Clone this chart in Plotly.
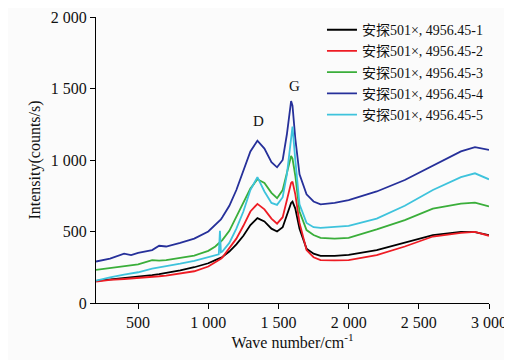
import plotly.graph_objects as go

wavenumber = [200, 300, 400, 450, 500, 600, 650, 700, 800, 900, 1000, 1050, 1075, 1083, 1090, 1100,
              1150, 1200, 1250, 1300, 1350, 1400, 1450, 1490, 1530, 1560, 1590, 1600, 1620, 1650,
              1700, 1750, 1800, 1900, 2000, 2200, 2400, 2600, 2800, 2900, 3000]

s1 = [155, 165, 172, 176, 182, 195, 202, 210, 228, 250, 278, 300, 312, 315, 318, 322, 360, 410, 470, 545,
      593, 570, 520, 500, 530, 610, 700, 709, 660, 520, 380, 345, 330, 330, 337, 370, 425, 475, 497, 495, 475]
s2 = [150, 162, 168, 171, 175, 182, 187, 192, 205, 222, 255, 283, 300, 305, 310, 318, 380, 450, 540, 640,
      693, 655, 590, 555, 600, 720, 840, 849, 760, 560, 370, 320, 300, 298, 300, 335, 395, 465, 490, 497, 470]
s3 = [232, 245, 258, 262, 270, 300, 296, 300, 315, 332, 365, 395, 418, 425, 432, 440, 505, 600, 700, 800,
      865, 840, 770, 733, 790, 920, 1028, 1010, 890, 640, 510, 475, 455, 450, 455, 515, 580, 660, 695, 702, 675]
s4 = [290, 310, 345, 335, 350, 370, 400, 395, 420, 450, 500, 545, 570, 578, 585, 600, 680, 790, 920, 1060,
      1135, 1080, 985, 949, 1000, 1180, 1412, 1380, 1150, 900, 760, 710, 690, 700, 720, 780, 860, 960, 1060, 1090, 1070]
s5 = [156, 180, 198, 205, 215, 240, 248, 255, 275, 295, 320, 332, 340, 505, 355, 360, 420, 520, 640, 790,
      880, 780, 700, 686, 740, 900, 1150, 1233, 1000, 690, 560, 530, 525, 530, 540, 590, 680, 790, 880, 907, 865]

names = ["安探501×, 4956.45-1", "安探501×, 4956.45-2", "安探501×, 4956.45-3",
         "安探501×, 4956.45-4", "安探501×, 4956.45-5"]
series = [s1, s2, s3, s4, s5]
colors = ["#000000", "#ee1c24", "#3aae3a", "#26309a", "#3ec3dc"]

x_ticks = [500, 1000, 1500, 2000, 2500, 3000]
x_ticktext = ["500", "1 000", "1 500", "2 000", "2 500", "3 000"]
y_ticks = [0, 500, 1000, 1500, 2000]
y_ticktext = ["0", "500", "1 000", "1 500", "2 000"]

peak_labels = ["D", "G"]
peak_x = [1360, 1617]
peak_y = [1272, 1517]

font_family = "'Liberation Serif', 'Times New Roman', 'Noto Sans CJK SC', serif"

fig = go.Figure()
for name, vals, col in zip(names, series, colors):
    fig.add_trace(go.Scatter(x=wavenumber, y=vals, mode="lines", name=name,
                             line=dict(color=col, width=1.8)))

for t, px, py in zip(peak_labels, peak_x, peak_y):
    fig.add_annotation(x=px, y=py, text=t, showarrow=False,
                       font=dict(family=font_family, size=15, color="#111"))

fig.update_layout(
    width=504, height=352,
    margin=dict(l=88, r=23, t=9, b=57, autoexpand=False),
    paper_bgcolor="#fbfbfb", plot_bgcolor="#fbfbfb",
    font=dict(family=font_family, size=15, color="#111"),
    showlegend=True,
    legend=dict(x=0.575, y=1.01, xanchor="left", yanchor="top",
                bgcolor="rgba(0,0,0,0)", font=dict(size=14, family=font_family),
                tracegroupgap=0, itemwidth=30),
    xaxis=dict(range=[200, 3000], tickvals=x_ticks, ticktext=x_ticktext, automargin=False,
               showline=True, linecolor="#000", linewidth=1.2, ticks="outside",
               ticklen=5, tickcolor="#000", showgrid=False, zeroline=False,
               title=dict(text="Wave number/cm<sup>-1</sup>", font=dict(size=16), standoff=6),
               tickfont=dict(size=16)),
    yaxis=dict(range=[0, 2000], tickvals=y_ticks, ticktext=y_ticktext, automargin=False,
               showline=True, linecolor="#000", linewidth=1.2, ticks="outside",
               ticklen=5, tickcolor="#000", showgrid=False, zeroline=False,
               title=dict(text="Intensity(counts/s)", font=dict(size=16), standoff=6),
               tickfont=dict(size=16)),
)

fig.write_html("out.html")
